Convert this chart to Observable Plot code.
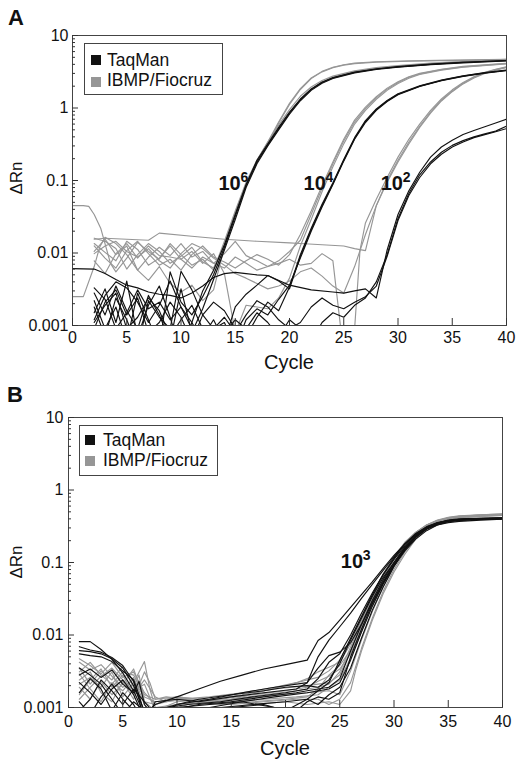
<!DOCTYPE html>
<html><head><meta charset="utf-8">
<script src="https://cdn.jsdelivr.net/npm/d3@7"></script>
<script src="https://cdn.jsdelivr.net/npm/@observablehq/plot@0.6"></script>
<style>
body{margin:0;background:#fff;}
#wrap{position:relative;width:516px;height:762px;overflow:hidden;background:#fff;}
#wrap svg{position:absolute;left:0;}
</style></head>
<body><div id="wrap"></div>
<script>
const FONT = "'Liberation Sans', Arial, Helvetica, sans-serif";
const X_TICKS = [0,5,10,15,20,25,30,35,40];
const Y_TICKS = [0.001,0.01,0.1,1,10];
const Y_TICK_LABELS = ["0.001","0.01","0.1","1","10"];
const SERIES = ["TaqMan","IBMP/Fiocruz"];
const COLORS = ["#111111","#969696"];

// Panel A — TaqMan (black): 10^6, 10^4, 10^2 dilutions
const A_TAQMAN = [
 [[2,0.0022],[3,0.0009],[4,0.0018],[5,0.0006],[6,0.0028],[7,0.0012],[8,0.0005],[9,0.0055],[10,0.0021],[11,0.0014],[12,0.0025],[13,0.005],[14,0.012],[15,0.032],[16,0.085],[17,0.18],[18,0.31],[19,0.52],[20,0.85],[21,1.3],[22,1.8],[23,2.25],[24,2.6],[26,3.1],[28,3.45],[30,3.7],[33,4.0],[36,4.25],[40,4.5]],
 [[2,0.0015],[3,0.0032],[4,0.0011],[5,0.0041],[6,0.0007],[7,0.0019],[8,0.0035],[9,0.0013],[10,0.0004],[11,0.0011],[12,0.003],[13,0.0058],[14,0.013],[15,0.034],[16,0.088],[17,0.19],[18,0.32],[19,0.54],[20,0.88],[21,1.33],[22,1.83],[23,2.28],[24,2.63],[26,3.12],[28,3.47],[30,3.72],[33,4.02],[36,4.27],[40,4.52]],
 [[2,0.0028],[3,0.0014],[4,0.0035],[5,0.0016],[6,0.0009],[7,0.0026],[8,0.0014],[9,0.0006],[10,0.0032],[11,0.0008],[12,0.0017],[13,0.0043],[14,0.011],[15,0.029],[16,0.08],[17,0.17],[18,0.3],[19,0.5],[20,0.82],[21,1.26],[22,1.75],[23,2.2],[24,2.55],[26,3.05],[28,3.4],[30,3.66],[33,3.96],[36,4.2],[40,4.45]],
 [[2,0.0012],[3,0.0026],[4,0.004],[5,0.0033],[6,0.0021],[7,0.0011],[8,0.0019],[9,0.0041],[10,0.0018],[11,0.0009],[12,0.0007],[13,0.0012],[14,0.0006],[15,0.0018],[16,0.0027],[17,0.0036],[18,0.0049],[19,0.0041],[20,0.0032],[21,0.009],[22,0.021],[23,0.045],[24,0.09],[25,0.19],[26,0.38],[27,0.65],[28,0.95],[29,1.25],[30,1.55],[32,2.0],[34,2.4],[36,2.75],[38,3.05],[40,3.3]],
 [[2,0.0018],[3,0.0007],[4,0.0024],[5,0.0012],[6,0.0005],[7,0.0022],[8,0.0013],[9,0.0009],[10,0.0056],[11,0.0031],[12,0.0014],[13,0.0009],[14,0.0011],[15,0.0005],[16,0.0012],[17,0.0017],[18,0.0014],[19,0.0023],[20,0.0036],[21,0.0085],[22,0.02],[23,0.043],[24,0.088],[25,0.185],[26,0.37],[27,0.63],[28,0.93],[29,1.23],[30,1.52],[32,1.98],[34,2.38],[36,2.72],[38,3.02],[40,3.28]],
 [[2,0.0009],[3,0.0021],[4,0.0031],[5,0.0014],[6,0.0024],[7,0.0008],[8,0.0011],[9,0.0021],[10,0.0013],[11,0.0006],[12,0.0014],[13,0.0021],[14,0.0016],[15,0.0009],[16,0.0007],[17,0.0013],[18,0.0021],[19,0.0016],[20,0.0034],[21,0.0095],[22,0.022],[23,0.047],[24,0.093],[25,0.195],[26,0.39],[27,0.67],[28,0.97],[29,1.27],[30,1.57],[32,2.02],[34,2.42],[36,2.78],[38,3.08],[40,3.33]],
 [[0,0.0061],[2,0.006],[3,0.0052],[4,0.0043],[5,0.0036],[6,0.0033],[7,0.0029],[8,0.0027],[9,0.0026],[10,0.0024],[11,0.0028],[12,0.0035],[13,0.0046],[14,0.0052],[15,0.0054],[16,0.0052],[17,0.005],[18,0.0049],[20,0.0036],[22,0.0031],[24,0.0029],[25,0.0028],[26,0.003],[27,0.0032],[28,0.0024],[29,0.011],[30,0.034],[31,0.072],[32,0.13],[33,0.21],[34,0.29],[35,0.36],[36,0.43],[37,0.49],[38,0.55],[39,0.62],[40,0.7]],
 [[2,0.0033],[3,0.0023],[4,0.0009],[5,0.0015],[6,0.0031],[7,0.0017],[8,0.0021],[9,0.0012],[10,0.0018],[11,0.0011],[12,0.0006],[13,0.0009],[14,0.0013],[15,0.0008],[16,0.0014],[17,0.0022],[18,0.0018],[19,0.0012],[20,0.0009],[21,0.0011],[22,0.0018],[23,0.0024],[24,0.0019],[25,0.0017],[26,0.0021],[27,0.0025],[28,0.0035],[29,0.009],[30,0.028],[31,0.062],[32,0.11],[33,0.17],[34,0.23],[35,0.29],[36,0.34],[37,0.39],[38,0.43],[39,0.47],[40,0.52]],
 [[2,0.0011],[3,0.0019],[4,0.0028],[5,0.0009],[6,0.0013],[7,0.0024],[8,0.0016],[9,0.0007],[10,0.0012],[11,0.0019],[12,0.0009],[13,0.0005],[14,0.0008],[15,0.0012],[16,0.0009],[17,0.0015],[18,0.0011],[19,0.0007],[20,0.0012],[21,0.0009],[22,0.0006],[23,0.0011],[24,0.0015],[25,0.0013],[26,0.0019],[27,0.0024],[28,0.004],[29,0.0095],[30,0.03],[31,0.066],[32,0.12],[33,0.18],[34,0.245],[35,0.305],[36,0.355],[37,0.4],[38,0.44],[39,0.48],[40,0.56]]
];

// Panel A — IBMP/Fiocruz (gray)
const A_IBMP = [
 [[2,0.016],[3,0.0145],[4,0.0115],[5,0.006],[6,0.0095],[7,0.0135],[8,0.0105],[9,0.0072],[10,0.009],[11,0.012],[12,0.0075],[13,0.0062],[14,0.013],[15,0.036],[16,0.09],[17,0.18],[18,0.32],[19,0.62],[20,1.12],[21,1.8],[22,2.55],[23,3.15],[24,3.6],[25,3.9],[26,4.1],[28,4.3],[31,4.42],[35,4.52],[40,4.62]],
 [[0,0.045],[1,0.045],[1.5,0.044],[2,0.034],[2.6,0.022],[3.5,0.0072],[4,0.0055],[5,0.0085],[6,0.014],[7,0.0105],[8,0.0082],[9,0.0135],[10,0.0095],[11,0.0068],[12,0.0082],[13,0.0058],[14,0.0145],[15,0.038],[16,0.095],[17,0.19],[18,0.34],[19,0.64],[20,1.16],[21,1.85],[22,2.6],[23,3.2],[24,3.65],[25,3.95],[26,4.15],[28,4.35],[31,4.47],[35,4.57],[40,4.68]],
 [[2,0.0105],[3,0.0155],[4,0.0095],[5,0.0125],[6,0.0058],[7,0.0042],[8,0.0065],[9,0.0038],[10,0.0029],[11,0.0036],[12,0.0022],[13,0.0031],[14,0.012],[15,0.033],[16,0.087],[17,0.19],[18,0.34],[19,0.58],[20,0.95],[21,1.45],[22,1.95],[23,2.4],[24,2.75],[26,3.25],[28,3.6],[30,3.85],[33,4.15],[36,4.4],[40,4.7]],
 [[0,0.0025],[1,0.0025],[2,0.0065],[2.5,0.012],[3,0.0165],[4,0.0135],[5,0.0095],[6,0.0058],[7,0.0088],[8,0.012],[9,0.0092],[10,0.0135],[11,0.0088],[12,0.0105],[13,0.0072],[14,0.0062],[15,0.0088],[16,0.0072],[17,0.0058],[18,0.0065],[19,0.0078],[20,0.0105],[21,0.015],[22,0.034],[23,0.078],[24,0.17],[25,0.35],[26,0.64],[27,0.98],[28,1.38],[29,1.82],[30,2.25],[31,2.65],[32,2.95],[34,3.38],[36,3.7],[40,4.1]],
 [[2,0.0125],[3,0.0085],[4,0.0062],[5,0.0108],[6,0.0145],[7,0.0098],[8,0.0068],[9,0.0082],[10,0.0058],[11,0.0095],[12,0.0125],[13,0.0088],[14,0.0075],[15,0.0062],[16,0.0078],[17,0.0095],[18,0.0082],[19,0.0068],[20,0.0095],[21,0.018],[22,0.038],[23,0.085],[24,0.18],[25,0.37],[26,0.68],[27,1.03],[28,1.43],[29,1.88],[30,2.3],[31,2.7],[32,3.0],[34,3.42],[36,3.75],[40,4.15]],
 [[2,0.0078],[3,0.0052],[4,0.0098],[5,0.0135],[6,0.0085],[7,0.0125],[8,0.0092],[9,0.0088],[10,0.0082],[11,0.0105],[12,0.0072],[13,0.0098],[14,0.0052],[15,0.0008],[16,0.0019],[17,0.0018],[18,0.0017],[19,0.0024],[20,0.0045],[21,0.0125],[22,0.029],[23,0.07],[24,0.155],[25,0.32],[26,0.6],[27,0.93],[28,1.32],[29,1.75],[30,2.18],[31,2.58],[32,2.9],[34,3.33],[36,3.65],[40,4.05]],
 [[2,0.0155],[3,0.016],[5,0.0155],[7,0.015],[8,0.0188],[11,0.017],[14,0.0155],[17,0.0145],[20,0.0138],[21,0.0135],[23,0.013],[25,0.0125],[26,0.0115],[27,0.0108],[28,0.045],[29,0.1],[30,0.19],[31,0.34],[32,0.56],[33,0.88],[34,1.28],[35,1.72],[36,2.2],[37,2.65],[38,3.05],[39,3.38],[40,3.65]],
 [[2,0.0135],[3,0.0102],[4,0.0078],[5,0.0145],[6,0.0112],[7,0.0068],[8,0.0085],[9,0.0125],[10,0.0082],[11,0.0062],[12,0.0088],[13,0.0072],[14,0.0098],[15,0.0145],[16,0.0092],[17,0.0078],[18,0.0065],[19,0.0072],[20,0.0082],[21,0.0068],[22,0.0072],[23,0.0098],[24,0.0078],[25,0.0004],[26,0.0009],[26.5,0.011],[27,0.026],[28,0.055],[29,0.11],[30,0.21],[31,0.37],[32,0.6],[33,0.93],[34,1.33],[35,1.78],[36,2.25],[37,2.7],[38,3.1],[39,3.42],[40,3.7]],
 [[2,0.0098],[3,0.0125],[4,0.0145],[5,0.0105],[6,0.0088],[7,0.0115],[8,0.0078],[9,0.0062],[10,0.0098],[11,0.0135],[12,0.0115],[13,0.0085],[14,0.0068],[15,0.0052],[16,0.0045],[17,0.0038],[18,0.0032],[19,0.0035],[20,0.0041],[21,0.0055],[22,0.0062],[23,0.0048],[24,0.0035],[25,0.0028],[26,0.0065],[27,0.018],[28,0.045],[29,0.095],[30,0.18],[31,0.32],[32,0.54],[33,0.85],[34,1.25],[35,1.68],[36,2.15],[37,2.6],[38,3.0],[39,3.33],[40,3.62]]
];

// Panel B — TaqMan (black), 10^3
const B_TAQMAN = [
 [[1,0.0081],[2,0.0081],[3,0.0063],[4,0.0046],[5,0.003],[6,0.0017],[7,0.0008],[8,0.0011],[10,0.0014],[12,0.0018],[14,0.0023],[16,0.0028],[18,0.0034],[20,0.0039],[22,0.0045],[23,0.0084],[24,0.0108],[25,0.016],[26,0.024],[27,0.036],[28,0.054],[29,0.083],[30,0.125],[31,0.18],[32,0.24],[33,0.29],[34,0.33],[35,0.355],[36,0.37],[38,0.385],[40,0.395]],
 [[1,0.0069],[2,0.0062],[3,0.0058],[4,0.0049],[5,0.0038],[6,0.0023],[6.5,0.0013],[7,0.0006],[8,0.0009],[10,0.0011],[13,0.0013],[16,0.0016],[19,0.0019],[22,0.0022],[23,0.005],[24,0.0085],[25,0.013],[26,0.02],[27,0.032],[28,0.05],[29,0.078],[30,0.12],[31,0.18],[32,0.25],[33,0.31],[34,0.35],[35,0.375],[36,0.39],[38,0.4],[40,0.41]],
 [[1,0.0061],[2,0.0059],[3,0.0055],[4,0.0047],[5,0.0035],[6,0.002],[7,0.0009],[7.5,0.0005],[9,0.0009],[12,0.0011],[15,0.0012],[18,0.0014],[21,0.0016],[22,0.0017],[24,0.0019],[25,0.0025],[26,0.006],[27,0.014],[28,0.03],[29,0.058],[30,0.1],[31,0.16],[32,0.23],[33,0.3],[34,0.35],[35,0.38],[36,0.395],[38,0.405],[40,0.41]],
 [[1,0.0035],[2,0.0028],[3,0.0021],[4,0.0013],[5,0.0008],[6,0.0012],[7,0.0009],[8,0.0005],[10,0.0009],[13,0.001],[16,0.0012],[19,0.0014],[22,0.0016],[24,0.0018],[25,0.0022],[26,0.0045],[27,0.011],[28,0.025],[29,0.05],[30,0.092],[31,0.15],[32,0.22],[33,0.29],[34,0.34],[35,0.37],[36,0.385],[38,0.395],[40,0.4]],
 [[1,0.0022],[2,0.0016],[3,0.0011],[4,0.0018],[5,0.0024],[6,0.0015],[7,0.0007],[9,0.0004],[11,0.0009],[14,0.001],[17,0.0011],[20,0.0012],[22,0.0013],[23,0.0011],[24,0.0015],[25,0.0019],[26,0.0035],[27,0.009],[28,0.022],[29,0.046],[30,0.088],[31,0.15],[32,0.23],[33,0.3],[34,0.35],[35,0.385],[36,0.4],[38,0.41],[40,0.415]],
 [[1,0.0012],[2,0.0008],[3,0.0014],[4,0.0021],[5,0.0013],[6,0.0009],[7,0.0005],[9,0.0008],[12,0.0009],[15,0.001],[18,0.0011],[20,0.0009],[22,0.0013],[23,0.0017],[24,0.0022],[25,0.0045],[26,0.009],[27,0.018],[28,0.036],[29,0.068],[30,0.115],[31,0.18],[32,0.25],[33,0.31],[34,0.355],[35,0.38],[36,0.39],[38,0.4],[40,0.405]],
 [[1,0.0055],[2,0.0052],[3,0.005],[4,0.0043],[5,0.0032],[6,0.0024],[6.5,0.0015],[7,0.0008],[8,0.0006],[9,0.001],[11,0.0011],[14,0.0012],[17,0.0014],[20,0.0016],[22,0.0018],[23,0.0025],[24,0.0042],[25,0.0055],[26,0.01],[27,0.02],[28,0.038],[29,0.068],[30,0.11],[31,0.17],[32,0.24],[33,0.3],[34,0.345],[35,0.37],[36,0.385],[38,0.395],[40,0.4]],
 [[1,0.0016],[2,0.0025],[3,0.0018],[4,0.0009],[5,0.0016],[6,0.0011],[7,0.0006],[8,0.0012],[10,0.0013],[12,0.0012],[15,0.0014],[18,0.0016],[21,0.0018],[22,0.0022],[23,0.0035],[24,0.0052],[25,0.0058],[26,0.0078],[27,0.014],[28,0.028],[29,0.054],[30,0.095],[31,0.155],[32,0.225],[33,0.29],[34,0.34],[35,0.37],[36,0.385],[38,0.4],[40,0.405]],
 [[1,0.0009],[2,0.0013],[3,0.0024],[4,0.0017],[5,0.0011],[6,0.0018],[7,0.0012],[8,0.0008],[10,0.001],[13,0.0011],[16,0.0012],[19,0.001],[21,0.0009],[22,0.0012],[23,0.0014],[24,0.0013],[25,0.0016],[25.5,0.0028],[26,0.005],[27,0.012],[28,0.027],[29,0.052],[30,0.09],[31,0.145],[32,0.21],[33,0.275],[34,0.33],[35,0.365],[36,0.385],[38,0.4],[40,0.41]],
 [[1,0.0028],[2,0.0034],[3,0.0026],[4,0.0033],[5,0.0021],[6,0.0016],[6.5,0.0023],[7,0.0011],[8,0.0007],[10,0.0011],[12,0.0013],[15,0.0015],[18,0.0017],[20,0.0019],[22,0.002],[23,0.0019],[24,0.0024],[25,0.004],[26,0.0085],[27,0.017],[28,0.034],[29,0.062],[30,0.1],[31,0.16],[32,0.23],[33,0.3],[34,0.35],[35,0.38],[36,0.395],[38,0.405],[40,0.41]]
];

// Panel B — IBMP/Fiocruz (gray), 10^3
const B_IBMP = [
 [[1,0.0047],[2,0.0038],[3,0.0029],[4,0.0042],[5,0.0026],[6,0.0031],[7,0.0016],[8,0.0011],[9,0.0013],[10,0.0014],[12,0.0013],[14,0.0012],[16,0.0014],[18,0.0017],[20,0.002],[22,0.0024],[23,0.0026],[24,0.0032],[25,0.0045],[26,0.0085],[27,0.017],[28,0.036],[29,0.07],[30,0.12],[31,0.19],[32,0.26],[33,0.33],[34,0.38],[35,0.41],[36,0.43],[38,0.445],[40,0.455]],
 [[1,0.0035],[2,0.0021],[3,0.0032],[4,0.0024],[5,0.0037],[6,0.0019],[6.5,0.0028],[7,0.0012],[8,0.0009],[10,0.0012],[13,0.0013],[16,0.0015],[19,0.0018],[22,0.002],[24,0.0022],[25,0.0028],[26,0.006],[27,0.014],[28,0.031],[29,0.062],[30,0.11],[31,0.18],[32,0.26],[33,0.33],[34,0.385],[35,0.42],[36,0.44],[38,0.455],[40,0.465]],
 [[1,0.0021],[2,0.0026],[3,0.0019],[4,0.0031],[5,0.0014],[6,0.0022],[7,0.0043],[7.5,0.0018],[8,0.001],[10,0.0011],[13,0.0012],[16,0.0013],[19,0.0015],[22,0.0016],[24,0.0017],[25,0.0015],[26,0.0032],[27,0.0085],[28,0.021],[29,0.046],[30,0.088],[31,0.15],[32,0.23],[33,0.31],[34,0.37],[35,0.41],[36,0.435],[38,0.455],[40,0.47]],
 [[1,0.0015],[2,0.0024],[3,0.0034],[4,0.0019],[5,0.0028],[6,0.0015],[7,0.0024],[8,0.0014],[9,0.0012],[11,0.0013],[13,0.0011],[15,0.0012],[18,0.0013],[21,0.0014],[23,0.0015],[24,0.0019],[25,0.0024],[26,0.0048],[27,0.011],[28,0.025],[29,0.052],[30,0.095],[31,0.16],[32,0.24],[33,0.32],[34,0.375],[35,0.41],[36,0.43],[38,0.445],[40,0.455]],
 [[1,0.0029],[2,0.0018],[3,0.0012],[4,0.0022],[5,0.0017],[6,0.0026],[7,0.0011],[8,0.0007],[10,0.001],[12,0.0012],[14,0.0011],[17,0.0012],[20,0.0013],[22,0.0014],[23,0.0018],[24,0.0028],[25,0.0038],[26,0.0062],[27,0.013],[28,0.028],[29,0.057],[30,0.1],[31,0.17],[32,0.25],[33,0.32],[34,0.375],[35,0.405],[36,0.425],[38,0.44],[40,0.45]],
 [[1,0.0019],[2,0.0013],[3,0.0023],[4,0.0015],[5,0.0021],[6,0.0034],[6.5,0.0021],[7,0.0012],[8,0.0011],[10,0.0013],[12,0.0012],[15,0.0011],[18,0.0012],[21,0.0013],[23,0.0013],[24,0.0011],[25,0.0013],[26,0.0022],[27,0.0065],[28,0.017],[29,0.04],[30,0.08],[31,0.14],[32,0.22],[33,0.3],[34,0.36],[35,0.4],[36,0.425],[38,0.445],[40,0.46]],
 [[1,0.0042],[2,0.0033],[3,0.0039],[4,0.0027],[5,0.0019],[6,0.0024],[7,0.0014],[8,0.0012],[10,0.0013],[13,0.0014],[16,0.0016],[19,0.0019],[21,0.0022],[22,0.0025],[23,0.0031],[24,0.0036],[25,0.0042],[26,0.0075],[27,0.016],[28,0.034],[29,0.066],[30,0.115],[31,0.185],[32,0.26],[33,0.325],[34,0.375],[35,0.405],[36,0.42],[38,0.435],[40,0.445]],
 [[1,0.0024],[2,0.0031],[3,0.0016],[4,0.0012],[5,0.0023],[6,0.0013],[7,0.0031],[7.5,0.0022],[8,0.0013],[10,0.0014],[12,0.0013],[14,0.0012],[17,0.0011],[20,0.0012],[22,0.0011],[24,0.0012],[25,0.0011],[26,0.0017],[26.5,0.0034],[27,0.006],[28,0.016],[29,0.037],[30,0.074],[31,0.13],[32,0.21],[33,0.29],[34,0.355],[35,0.395],[36,0.42],[38,0.44],[40,0.455]],
 [[1,0.0013],[2,0.0019],[3,0.0027],[4,0.0035],[5,0.0024],[6,0.0017],[7,0.0021],[8,0.0009],[10,0.0011],[12,0.0012],[15,0.0013],[18,0.0015],[21,0.0017],[23,0.0019],[24,0.0021],[25,0.0031],[26,0.0068],[27,0.015],[28,0.032],[29,0.063],[30,0.11],[31,0.18],[32,0.255],[33,0.325],[34,0.38],[35,0.415],[36,0.435],[38,0.45],[40,0.46]],
 [[1,0.0031],[2,0.0042],[3,0.0028],[4,0.0021],[5,0.0031],[6,0.0028],[7,0.0015],[8,0.0013],[9,0.0014],[11,0.0013],[14,0.0013],[17,0.0015],[20,0.0017],[22,0.0019],[23,0.0023],[24,0.0027],[25,0.0034],[26,0.0055],[27,0.012],[28,0.026],[29,0.053],[30,0.096],[31,0.16],[32,0.235],[33,0.31],[34,0.365],[35,0.4],[36,0.42],[38,0.435],[40,0.445]]
];

// Dilution annotations (data coordinates)
const A_LABELS = [
  {cycle:13.45, value:0.073, base:"10", exp:"6"},
  {cycle:21.3, value:0.073, base:"10", exp:"4"},
  {cycle:28.4, value:0.073, base:"10", exp:"2"}
];
const B_LABELS = [
  {cycle:25.1, value:0.085, base:"10", exp:"3"}
];

function toRows(curves, series, prefix) {
  return curves.flatMap((pts, i) => pts.map(([c, v]) => ({id: prefix + i, series, cycle: c, value: v})));
}

function buildPanel(o) {
  const rows = [...toRows(o.ibmp, SERIES[1], "g"), ...toRows(o.taqman, SERIES[0], "t")];
  const plotW = 516 - o.ml - o.mr;
  const minor = [];
  for (const d of [0.001, 0.01, 0.1, 1]) for (let k = 2; k < 10; k++) minor.push(d * k);
  const svg = Plot.plot({
    width: 516, height: o.height,
    marginLeft: o.ml, marginRight: o.mr, marginTop: o.mt, marginBottom: o.height - o.mt - o.plotH,
    style: {fontFamily: FONT, fontSize: "16px", color: "#111", background: "transparent", overflow: "visible"},
    x: {domain: [0, 40], label: null},
    y: {type: "log", domain: [0.001, 10], label: null},
    color: {domain: SERIES, range: COLORS},
    marks: [
      Plot.line(rows, {x: "cycle", y: "value", z: "id", stroke: "series", strokeWidth: 1.15, clip: true}),
      Plot.frame({stroke: "#444"}),
      Plot.tickX(X_TICKS, {x: d => d, insetTop: o.plotH - 7, stroke: "#333"}),
      Plot.tickY(Y_TICKS, {y: d => d, insetRight: plotW - 6, stroke: "#333"}),
      Plot.tickY(minor, {y: d => d, insetRight: plotW - 3, stroke: "#333"}),
      Plot.axisX({ticks: X_TICKS, tickSize: 0, tickPadding: o.xPad, fontSize: 16, label: null}),
      Plot.axisY({ticks: Y_TICKS, tickSize: 0, tickPadding: o.yPad, fontSize: 16, label: null,
                  tickFormat: d => Y_TICK_LABELS[Y_TICKS.indexOf(d)]}),
      Plot.text(o.labels, {x: "cycle", y: "value", text: "base", textAnchor: "start", lineAnchor: "bottom",
                           fontSize: 20, fontWeight: "bold", fill: "#111"}),
      Plot.text(o.labels, {x: "cycle", y: "value", text: "exp", textAnchor: "start", lineAnchor: "bottom",
                           fontSize: 14, fontWeight: "bold", dx: 22, dy: -8, fill: "#111"})
    ]
  });
  const s = d3.select(svg);
  s.append("text").attr("x", o.letter.x).attr("y", o.letter.y).attr("text-anchor", "start")
    .attr("font-size", 22).attr("font-weight", "bold").attr("fill", "#111").text(o.letter.t);
  s.append("text").attr("transform", `translate(${o.yTitle.x},${o.yTitle.y}) rotate(-90)`)
    .attr("text-anchor", "middle").attr("font-size", 17).attr("fill", "#111").text("ΔRn");
  s.append("text").attr("x", o.xTitle.x).attr("y", o.xTitle.y)
    .attr("text-anchor", "middle").attr("font-size", 20).attr("fill", "#111").text("Cycle");
  const L = o.legend;
  const g = s.append("g");
  g.append("rect").attr("x", L.x).attr("y", L.y).attr("width", L.w).attr("height", L.h)
    .attr("fill", "white").attr("stroke", "#444").attr("stroke-width", 1);
  SERIES.forEach((name, i) => {
    g.append("rect").attr("x", L.sx).attr("y", L.sy[i]).attr("width", 10).attr("height", 10).attr("fill", COLORS[i]);
    g.append("text").attr("x", L.tx).attr("y", L.ty[i]).attr("text-anchor", "start")
      .attr("font-size", 17.5).attr("fill", "#111").text(name);
  });
  svg.style.top = o.top + "px";
  return svg;
}

const wrap = document.getElementById("wrap");
wrap.appendChild(buildPanel({
  taqman: A_TAQMAN, ibmp: A_IBMP, labels: A_LABELS,
  top: 0, height: 380, ml: 72, mr: 10, mt: 35, plotH: 290, xPad: 6, yPad: 4,
  letter: {t: "A", x: 8, y: 25}, yTitle: {x: 22, y: 178}, xTitle: {x: 289, y: 369},
  legend: {x: 84.5, y: 43.5, w: 138, h: 51, sx: 91, sy: [55, 77], tx: 107, ty: [66, 86]}
}));
wrap.appendChild(buildPanel({
  taqman: B_TAQMAN, ibmp: B_IBMP, labels: B_LABELS,
  top: 380, height: 382, ml: 68, mr: 14, mt: 37, plotH: 290, xPad: 8, yPad: 5,
  letter: {t: "B", x: 7, y: 22}, yTitle: {x: 22, y: 182}, xTitle: {x: 285, y: 375},
  legend: {x: 79.5, y: 45.5, w: 138, h: 50, sx: 85, sy: [55, 76], tx: 103, ty: [66, 86]}
}));
</script>
</body></html>
